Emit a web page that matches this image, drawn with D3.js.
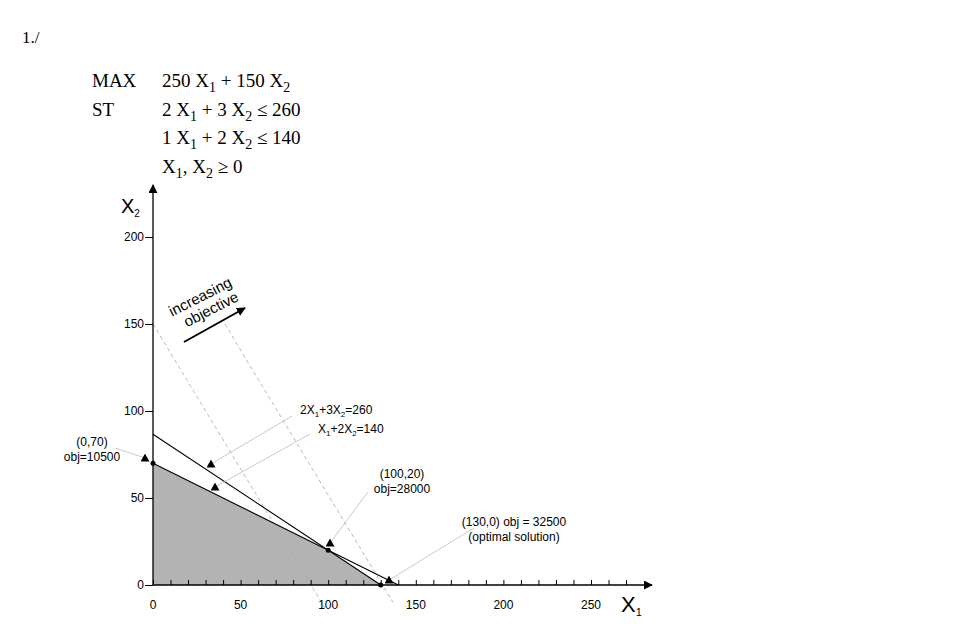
<!DOCTYPE html>
<html><head><meta charset="utf-8">
<script src="https://cdn.jsdelivr.net/npm/d3@7"></script>
<style>body{margin:0;background:#fff}</style>
</head><body>
<svg id="c" width="978" height="630"></svg>
<script>
// Data
const xTicks = [0, 50, 100, 150, 200, 250];
const yTicks = [0, 50, 100, 150, 200];
const feasible = [[0,0],[0,70],[100,20],[130,0]];
const constraint1 = [[0,86.67],[130,0]];      // 2X1+3X2=260
const constraint2 = [[0,70],[140,0]];         // X1+2X2=140
const objLines = [[[0,150],[98,-13]],[[41,150],[137,-10]]];
const corners = [[0,70],[100,20],[130,0]];
const headerRows = [
  ["MAX", ["250 X", "1", " + 150 X", "2"]],
  ["ST", ["2 X", "1", " + 3 X", "2", " ≤ 260"]],
  ["", ["1 X", "1", " + 2 X", "2", " ≤ 140"]],
  ["", ["X", "1", ", X", "2", " ≥ 0"]]
];
const notes = [
  {lines:["2X","1","+3X","2","=260"], tx:300, ty:414, anchor:"start", from:[293,418], to:[100*0+35,63]},
];

const svg = d3.select("#c");
const x = d3.scaleLinear().domain([0,250]).range([153,591]);
const y = d3.scaleLinear().domain([0,200]).range([585,237]);

// header
svg.append("text").attr("x",22).attr("y",43).attr("font-family","Liberation Serif").attr("font-size",17).text("1./");
headerRows.forEach((r,i)=>{
  const yy = 87 + i*28.5;
  svg.append("text").attr("x",92).attr("y",yy).attr("font-family","Liberation Serif").attr("font-size",19).text(r[0]);
  const t = svg.append("text").attr("x",162).attr("y",yy).attr("font-family","Liberation Serif").attr("font-size",19);
  r[1].forEach((s,j)=>{
    const sub = (s==="1"||s==="2");
    t.append("tspan").attr("dy", sub?5:(j>0?-5:0)).attr("font-size",sub?14:19).text(s);
  });
});

// feasible region
const line = d3.line().x(d=>x(d[0])).y(d=>y(d[1]));
svg.append("path").attr("d", line(feasible)+"Z").attr("fill","#b3b3b3");

// objective dashed lines
objLines.forEach(l=>svg.append("path").attr("d",line(l)).attr("stroke","#aaa").attr("stroke-width",0.8).attr("stroke-dasharray","4,3").attr("fill","none"));

// constraints
[constraint1,constraint2].forEach(l=>svg.append("path").attr("d",line(l)).attr("stroke","#000").attr("stroke-width",1.1).attr("fill","none"));

// axes
const defs = svg.append("defs");
defs.append("marker").attr("id","ah").attr("viewBox","0 0 10 10").attr("refX",9).attr("refY",5)
  .attr("markerWidth",9).attr("markerHeight",9).attr("markerUnits","userSpaceOnUse").attr("orient","auto")
  .append("path").attr("d","M0,0L10,5L0,10Z").attr("fill","#000");
defs.append("marker").attr("id","tri").attr("viewBox","0 0 10 10").attr("refX",5).attr("refY",5)
  .attr("markerWidth",9).attr("markerHeight",9).attr("markerUnits","userSpaceOnUse").attr("orient","0")
  .append("path").attr("d","M5,0L10,9L0,9Z").attr("fill","#000");

svg.append("line").attr("x1",x(0)).attr("x2",652).attr("y1",y(0)).attr("y2",y(0)).attr("stroke","#000").attr("stroke-width",1.3).attr("marker-end","url(#ah)");
svg.append("line").attr("x1",x(0)).attr("x2",x(0)).attr("y1",y(0)).attr("y2",185).attr("stroke","#000").attr("stroke-width",1.3).attr("marker-end","url(#ah)");

const xa = svg.append("g").attr("transform",`translate(0,${y(0)})`);
xa.call(d3.axisBottom(x).tickValues(d3.range(0,271,10)).tickSize(5).tickFormat(""));
xa.call(d3.axisBottom(x).tickValues(d3.range(0,271,10)).tickSize(-5).tickFormat(""));
xa.selectAll(".domain").remove();
xTicks.forEach(v=>svg.append("text").attr("x",x(v)).attr("y",609).attr("text-anchor","middle").attr("font-family","Liberation Sans").attr("font-size",12).text(v));
const ya = svg.append("g").attr("transform",`translate(${x(0)},0)`);
ya.call(d3.axisLeft(y).tickValues(d3.range(0,221,10)).tickSize(4).tickFormat(""));
ya.call(d3.axisLeft(y).tickValues(yTicks).tickSize(8).tickFormat(""));
ya.selectAll(".domain").remove();
yTicks.forEach(v=>svg.append("text").attr("x",144).attr("y",y(v)+4).attr("text-anchor","end").attr("font-family","Liberation Sans").attr("font-size",12).text(v));

// axis labels
function subLabel(tx,ty,main,sub,fs){
  const t=svg.append("text").attr("x",tx).attr("y",ty).attr("font-family","Liberation Sans").attr("font-size",fs);
  t.append("tspan").text(main); t.append("tspan").attr("dy",4).attr("font-size",fs*0.5).text(sub);
}
subLabel(621,612,"X","1",22);
subLabel(121,213,"X","2",20);

// corner dots
corners.forEach(c=>svg.append("circle").attr("cx",x(c[0])).attr("cy",y(c[1])).attr("r",2.5).attr("fill","#000"));

// increasing objective
const g = svg.append("g").attr("transform","translate(208,312) rotate(-27)");
g.append("text").attr("x",0).attr("y",-12).attr("text-anchor","middle").attr("font-family","Liberation Sans").attr("font-size",15).text("increasing");
g.append("text").attr("x",4).attr("y",4).attr("text-anchor","middle").attr("font-family","Liberation Sans").attr("font-size",15).text("objective");
svg.append("line").attr("x1",184).attr("y1",342).attr("x2",245).attr("y2",308).attr("stroke","#000").attr("stroke-width",2).attr("marker-end","url(#ah)");

// annotations
function note(lines, anchor, tx, ty, x1,y1,x2,y2){
  lines.forEach((ln,i)=>{
    const t=svg.append("text").attr("x",tx).attr("y",ty+i*15).attr("text-anchor",anchor).attr("font-family","Liberation Sans").attr("font-size",12);
    ln.forEach((s,j)=>{
      const sub = Array.isArray(s);
      t.append("tspan").attr("dy", sub?3:(j>0&&Array.isArray(ln[j-1])?-3:0)).attr("font-size",sub?8:12).text(sub?s[0]:s);
    });
  });
  svg.append("line").attr("x1",x1).attr("y1",y1).attr("x2",x2).attr("y2",y2).attr("stroke","#bbb").attr("stroke-width",0.8).attr("marker-end","url(#tri)");
}
note([["2X",["1"],"+3X",["2"],"=260"]],"start",300,414,292,416,211,464);
note([["X",["1"],"+2X",["2"],"=140"]],"start",318,433,310,434,215,487);
note([["(0,70)"],["obj=10500"]],"middle",92,446,115,448,145,458);
note([["(100,20)"],["obj=28000"]],"middle",402,478,368,492,330,543);
note([["(130,0) obj = 32500"],["(optimal solution)"]],"middle",514,526,474,528,389,580);
</script>
</body></html>
